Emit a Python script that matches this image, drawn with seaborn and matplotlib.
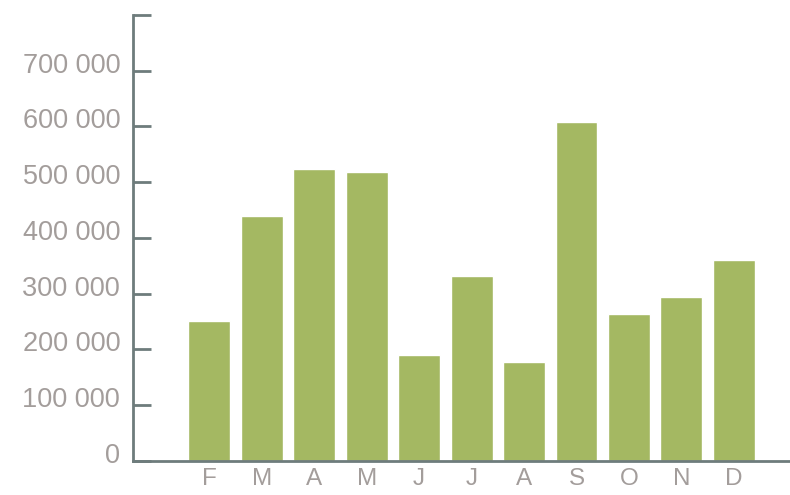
import matplotlib
matplotlib.use("Agg")
import matplotlib.pyplot as plt
import matplotlib.transforms as mtransforms
import seaborn as sns
import pandas as pd

# Data
months = ["F", "M", "A", "M ", "J", "J ", "A ", "S", "O", "N", "D"]
values = [251000, 440000, 523000, 519000, 189000, 331000, 177000, 607000, 263000, 293000, 361000]
y_ticks = [0, 100000, 200000, 300000, 400000, 500000, 600000, 700000, 800000]
y_labels = ["0", "100 000", "200 000", "300 000", "400 000", "500 000", "600 000", "700 000", ""]

df = pd.DataFrame({"month": months, "value": values})

sns.set_style("white")
plt.rcParams['font.family'] = ['Liberation Sans', 'DejaVu Sans']

axis_col = "#6e7c7c"
text_col = "#a39d9b"

fig = plt.figure(figsize=(7.9, 4.95), dpi=100)
ax = fig.add_axes([0.168, 0.069, 0.832, 0.901])

sns.barplot(data=df, x="month", y="value", color="#a4b862", saturation=1,
            width=0.8, ax=ax)

ax.set_xlim(-1.46, 11.07)
ax.set_ylim(0, 800000)
ax.set_yticks(y_ticks)
ax.set_yticklabels(y_labels)
ax.set_xticks(range(len(months)))
ax.set_xticklabels([m.strip() for m in months])
ax.set_xlabel("")
ax.set_ylabel("")

for side in ["top", "right"]:
    ax.spines[side].set_visible(False)
for side in ["left", "bottom"]:
    ax.spines[side].set_color(axis_col)
    ax.spines[side].set_linewidth(2)

ax.tick_params(axis="y", left=True, direction="in", length=13, width=2, color=axis_col,
               labelsize=19.5, labelcolor=text_col, pad=9)
ax.tick_params(axis="x", bottom=False, length=0, labelsize=17.5, labelcolor=text_col, pad=5)

# y labels sit a little above their ticks in the reference
shift = mtransforms.ScaledTranslation(0, 0.08, fig.dpi_scale_trans)
for lab in ax.get_yticklabels():
    lab.set_transform(lab.get_transform() + shift)

fig.savefig("out.png", dpi=100)
